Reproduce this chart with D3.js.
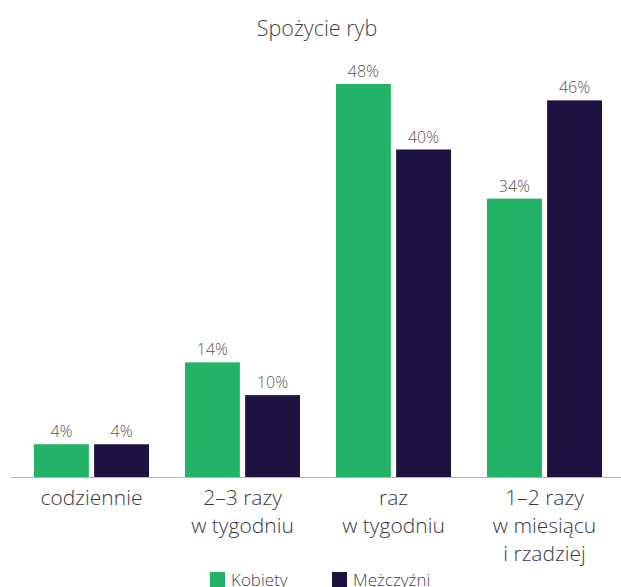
<!DOCTYPE html>
<html>
<head>
<meta charset="utf-8">
<script src="https://cdn.jsdelivr.net/npm/d3@7"></script>
<style>
  html, body { margin: 0; padding: 0; background: #fff; }
  svg { display: block; font-family: "Open Sans", "Noto Sans", sans-serif; }
</style>
</head>
<body>
<svg id="chart" width="621" height="587"></svg>
<script>
// Fish consumption frequency by gender (%)
const title = "Spożycie ryb";
const categories = [
  ["codziennie"],
  ["2–3 razy", "w tygodniu"],
  ["raz", "w tygodniu"],
  ["1–2 razy", "w miesiącu", "i rzadziej"]
];
const seriesNames = ["Kobiety", "Mężczyźni"];
const kobiety = [4, 14, 48, 34];
const mezczyzni = [4, 10, 40, 46];
const seriesColors = ["#22b366", "#1e1240"];

const svg = d3.select("#chart");
const W = 621;
const baseY = 477;

const rows = categories.map((c, i) => ({
  key: c.join(" "),
  lines: c,
  values: [kobiety[i], mezczyzni[i]]
}));

const x0 = d3.scaleBand()
  .domain(rows.map(d => d.key))
  .range([16, 620])
  .paddingInner(0.2384)
  .paddingOuter(0.1192);

const x1 = d3.scaleBand()
  .domain(seriesNames)
  .range([0, x0.bandwidth()])
  .paddingInner(0.087);

const y = d3.scaleLinear()
  .domain([0, 48])
  .range([baseY, 84]);

// Title
svg.append("text")
  .attr("x", 317)
  .attr("y", 36)
  .attr("text-anchor", "middle")
  .attr("font-size", 21.5)
  .attr("font-weight", 300)
  .attr("fill", "#444")
  .text(title);

// Bars and value labels
const groups = svg.append("g").selectAll("g")
  .data(rows)
  .join("g")
  .attr("transform", d => `translate(${x0(d.key)},0)`);

const cells = groups.selectAll("g")
  .data(d => d.values.map((v, j) => ({ name: seriesNames[j], value: v, j })))
  .join("g");

cells.append("rect")
  .attr("x", d => x1(d.name))
  .attr("y", d => y(d.value))
  .attr("width", x1.bandwidth())
  .attr("height", d => baseY - y(d.value))
  .attr("fill", d => seriesColors[d.j]);

cells.append("text")
  .attr("x", d => x1(d.name) + x1.bandwidth() / 2)
  .attr("y", d => y(d.value) - 7)
  .attr("text-anchor", "middle")
  .attr("font-size", 16)
  .attr("font-weight", 300)
  .attr("fill", "#555")
  .text(d => d.value + "%");

// Baseline
svg.append("line")
  .attr("x1", 11)
  .attr("x2", W)
  .attr("y1", baseY + 0.5)
  .attr("y2", baseY + 0.5)
  .attr("stroke", "#b3b3b3")
  .attr("stroke-width", 1.2);

// Category labels
const catLabels = svg.append("g").selectAll("text")
  .data(rows)
  .join("text")
  .attr("x", d => x0(d.key) + x0.bandwidth() / 2)
  .attr("y", 505)
  .attr("text-anchor", "middle")
  .attr("font-size", 21)
  .attr("font-weight", 300)
  .attr("fill", "#3a3a3a");

catLabels.selectAll("tspan")
  .data(d => d.lines.map((l, k) => ({ l, k, cx: x0(d.key) + x0.bandwidth() / 2 })))
  .join("tspan")
  .attr("x", d => d.cx)
  .attr("dy", d => d.k === 0 ? 0 : 28)
  .text(d => d.l);

// Legend
const legendX = [210, 332];
const legend = svg.append("g").selectAll("g")
  .data(seriesNames)
  .join("g")
  .attr("transform", (d, i) => `translate(${legendX[i]},572)`);

legend.append("rect")
  .attr("width", 15)
  .attr("height", 15)
  .attr("fill", (d, i) => seriesColors[i]);

legend.append("text")
  .attr("x", 21)
  .attr("y", 14)
  .attr("font-size", 17)
  .attr("font-weight", 300)
  .attr("fill", "#444")
  .text(d => d);
</script>
</body>
</html>
